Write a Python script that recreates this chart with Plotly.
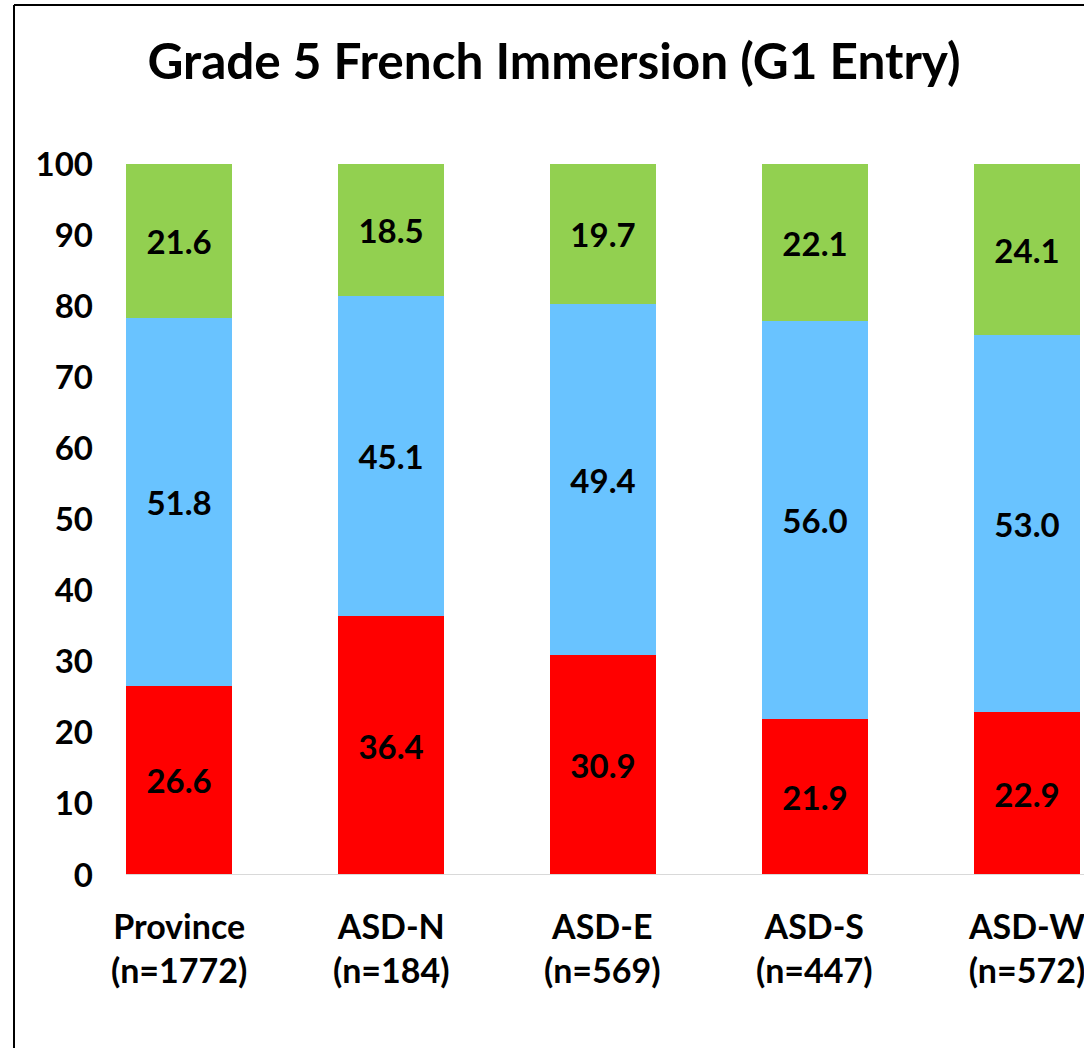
import plotly.graph_objects as go

# Grade 5 French Immersion (G1 Entry) - stacked percentages by district
districts = ['Province<br>(n=1772)', 'ASD-N<br>(n=184)', 'ASD-E<br>(n=569)',
             'ASD-S<br>(n=447)', 'ASD-W<br>(n=572)']
red_vals = [26.6, 36.4, 30.9, 21.9, 22.9]
blue_vals = [51.8, 45.1, 49.4, 56.0, 53.0]
green_vals = [21.6, 18.5, 19.7, 22.1, 24.1]
y_ticks = [0, 10, 20, 30, 40, 50, 60, 70, 80, 90, 100]

FONT = 'Lato'
positions = list(range(len(districts)))

fig = go.Figure()

# bottom to top
for vals, color in [(red_vals, '#FF0000'), (blue_vals, '#69C3FF'), (green_vals, '#92D050')]:
    fig.add_trace(go.Bar(
        x=positions, y=vals,
        marker=dict(color=color, line=dict(width=0)),
        text=vals, texttemplate='%{y:.1f}',
        textposition='inside', insidetextanchor='middle',
        textfont=dict(family=FONT, size=33, color='black', weight='bold'),
        width=0.5, showlegend=False,
    ))

fig.update_layout(
    barmode='stack',
    width=1084, height=1048,
    margin=dict(l=94, r=0, t=164, b=173),
    plot_bgcolor='white', paper_bgcolor='white',
    font=dict(family=FONT, color='black'),
    title=dict(
        text='<b>Grade 5 French Immersion (G1 Entry)</b>',
        font=dict(family=FONT, size=49.5, color='black'),
        x=554 / 1084, xref='container', xanchor='center',
        y=1 - 62 / 1048, yref='container', yanchor='middle',
    ),
    xaxis=dict(
        range=[-0.401, 4.269], tickmode='array', tickvals=positions,
        showticklabels=False,
        showgrid=False, zeroline=False, showline=False,
    ),
    yaxis=dict(
        range=[0, 100], tickmode='array', tickvals=y_ticks,
        tickfont=dict(family=FONT, size=33, weight='bold'),
        showgrid=False, zeroline=False, showline=False,
    ),
)

# category labels as annotations so the last one is not dropped at the edge
for pos, label in zip(positions, districts):
    fig.add_annotation(x=pos, xref='x', y=-0.0394, yref='paper',
                       text=label, showarrow=False, yanchor='top',
                       font=dict(family=FONT, size=34, color='black', weight='bold'))

# light grey baseline starting at first bar
fig.add_shape(type='line', xref='x', yref='y', x0=-0.25, x1=4.269, y0=0, y1=0,
              line=dict(color='#D9D9D9', width=2))

# chart border (left and top edges visible)
fig.add_shape(type='line', xref='paper', yref='paper',
              x0=(14 - 94) / 990, x1=(14 - 94) / 990,
              y0=(875 - 5) / 711, y1=(875 - 1060) / 711,
              line=dict(color='black', width=2))
fig.add_shape(type='line', xref='paper', yref='paper',
              x0=(14 - 94) / 990, x1=(1100 - 94) / 990,
              y0=(875 - 5) / 711, y1=(875 - 5) / 711,
              line=dict(color='black', width=2))

# drop the default page margin so the figure sits at the window's corner
fig.write_html('out.html', config={'displayModeBar': False},
               post_script="document.body.style.margin='0';")
